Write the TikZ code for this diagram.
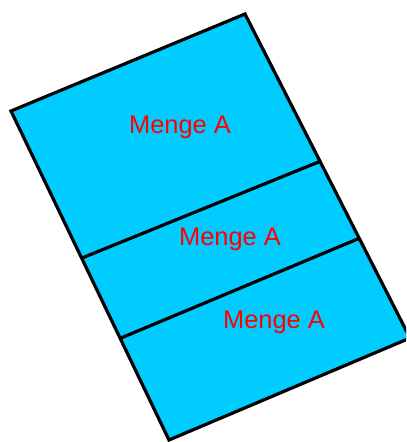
\documentclass[tikz,border=0pt]{standalone}
\usepackage{fontspec}
\setmainfont{Liberation Sans}
\usepackage{xcolor}
\usepackage{tikz}
\usetikzlibrary{calc}
\definecolor{mengeblau}{RGB}{0,204,255}
\definecolor{mengerot}{RGB}{255,0,0}
\tikzstyle{flaeche} = [fill=mengeblau, draw=black, line width=3.2bp, line join=miter]
\tikzstyle{teiler} = [draw=black, line width=3.2bp]
\tikzstyle{menge} = [text=mengerot, font=\fontsize{25.5}{30}\selectfont, inner sep=0pt, anchor=base]

\begin{document}
\begin{tikzpicture}[x=1bp, y=-1bp]
			% page frame
			\useasboundingbox (0,0) rectangle (406,442);
			\clip (0,0) rectangle (406,442);
			
			% corners
			\coordinate (ol) at (11,111);
			\coordinate (or) at (245,14);
			\coordinate (ul) at (169,440);
			\coordinate (ur) at (410,338);
			\coordinate (t1l) at (82,258);
			\coordinate (t1r) at (321,161);
			\coordinate (t2l) at (121,338);
			\coordinate (t2r) at (360,238);
			
			% Menge shape
			\draw[flaeche] (ol) -- (or) -- (ur) -- (ul) -- cycle;
			\draw[teiler] (t1l) -- (t1r);
			\draw[teiler] (t2l) -- (t2r);
			
			\node[menge] (mengeA) at (180,134) {Menge A};
			\node[menge] (mengeB) at (230,245) {Menge A};
			\node[menge] (mengeC) at (274,328) {Menge A};
		\end{tikzpicture}
\end{document}
